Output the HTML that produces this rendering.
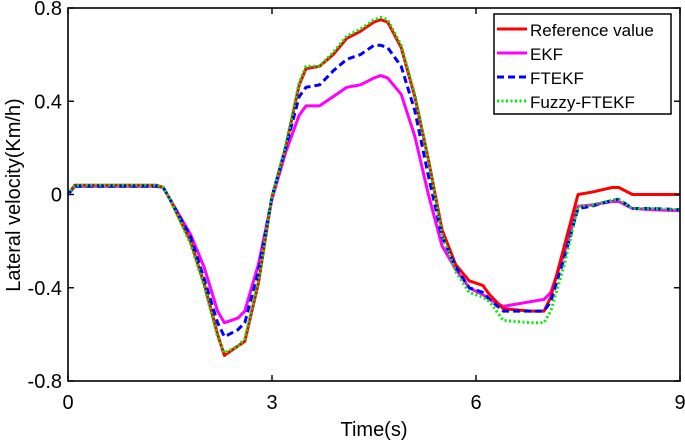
<!DOCTYPE html>
<html><head><meta charset="utf-8"><style>
body{margin:0;background:#fff;}
svg{display:block;font-family:"Liberation Sans",Arial,sans-serif;}
</style></head><body>
<svg id="chart" width="685" height="443" viewBox="0 0 685 443">
<rect x="0" y="0" width="685" height="443" fill="#fff"/>
<g id="series"></g>
<g id="axes"></g>
<text x="374" y="436" font-size="20" text-anchor="middle">Time(s)</text>
<text transform="translate(20,195) rotate(-90)" font-size="20" text-anchor="middle">Lateral velocity(Km/h)</text>
<g>
<rect x="494" y="14" width="177" height="100" fill="#fff" stroke="#000" stroke-width="1.5"/>
<g><line x1="497" y1="29" x2="527" y2="29" stroke="#ff0000" stroke-width="3"/><text x="530" y="36" font-size="17">Reference value</text></g>
<g><line x1="497" y1="53" x2="527" y2="53" stroke="#ff00ff" stroke-width="3"/><text x="530" y="60" font-size="17">EKF</text></g>
<g><line x1="497" y1="77" x2="527" y2="77" stroke="#0000ff" stroke-width="3" stroke-dasharray="7,4"/><text x="530" y="84" font-size="17">FTEKF</text></g>
<g><line x1="497" y1="101" x2="527" y2="101" stroke="#00ee00" stroke-width="3" stroke-dasharray="2,2.5"/><text x="530" y="108" font-size="17">Fuzzy-FTEKF</text></g>
</g>
</svg>
<script>
const times=[0,0.1,1.3,1.4,1.5,1.8,2.0,2.2,2.3,2.5,2.6,2.8,3.0,3.2,3.4,3.5,3.7,3.9,4.1,4.3,4.5,4.6,4.7,4.9,5.1,5.3,5.5,5.7,5.9,6.1,6.2,6.4,6.8,7.0,7.1,7.3,7.5,7.7,8.0,8.1,8.3,8.6,9.0];
const refValues=[0,0.04,0.04,0.03,-0.02,-0.2,-0.38,-0.6,-0.69,-0.65,-0.63,-0.38,-0.01,0.2,0.47,0.54,0.55,0.6,0.67,0.7,0.74,0.75,0.74,0.63,0.42,0.15,-0.15,-0.3,-0.37,-0.39,-0.43,-0.49,-0.5,-0.5,-0.44,-0.22,0.0,0.01,0.03,0.03,0.0,0.0,0.0];
const ekfValues=[0,0.035,0.035,0.03,-0.02,-0.17,-0.31,-0.5,-0.55,-0.53,-0.5,-0.3,-0.02,0.18,0.34,0.38,0.38,0.42,0.46,0.47,0.5,0.51,0.5,0.43,0.25,0.0,-0.22,-0.32,-0.4,-0.43,-0.45,-0.48,-0.46,-0.45,-0.42,-0.25,-0.05,-0.045,-0.03,-0.03,-0.06,-0.065,-0.07];
const ftekfValues=[0,0.035,0.035,0.03,-0.02,-0.18,-0.36,-0.55,-0.61,-0.58,-0.55,-0.33,-0.01,0.2,0.42,0.46,0.47,0.53,0.58,0.6,0.64,0.64,0.63,0.55,0.36,0.08,-0.18,-0.31,-0.4,-0.42,-0.45,-0.5,-0.5,-0.5,-0.46,-0.27,-0.06,-0.05,-0.025,-0.02,-0.06,-0.06,-0.065];
const fuzzyValues=[0,0.04,0.04,0.03,-0.02,-0.21,-0.39,-0.61,-0.68,-0.65,-0.62,-0.37,-0.01,0.21,0.48,0.55,0.55,0.61,0.68,0.71,0.75,0.76,0.75,0.64,0.43,0.15,-0.17,-0.33,-0.42,-0.44,-0.46,-0.54,-0.55,-0.55,-0.5,-0.3,-0.05,-0.045,-0.025,-0.02,-0.06,-0.06,-0.065];
const xTicks=[0,3,6,9];
const xTickLabels=["0","3","6","9"];
const yTicks=[-0.8,-0.4,0,0.4,0.8];
const yTickLabels=["-0.8","-0.4","0","0.4","0.8"];
const X0=68,X1=680,Y0=381,Y1=8;
function xs(t){return X0+(t-0)/(9-0)*(X1-X0);}
function ys(v){return Y0-(v+0.8)/1.6*(Y0-Y1);}
const NS="http://www.w3.org/2000/svg";
const sg=document.getElementById('series');
function line(vals,color,dash,name,w){
  const p=document.createElementNS(NS,'path');
  let d='';
  vals.forEach((v,i)=>{d+=(i?'L':'M')+xs(times[i]).toFixed(1)+','+ys(v).toFixed(1);});
  p.setAttribute('d',d);p.setAttribute('fill','none');p.setAttribute('stroke',color);
  p.setAttribute('stroke-width',w);p.setAttribute('stroke-linejoin','round');
  if(dash)p.setAttribute('stroke-dasharray',dash);
  
  
  sg.appendChild(p);
}
line(ekfValues,'#ff00ff',null,'ekf-line',3);
line(refValues,'#ff0000',null,'reference-line',3);
line(ftekfValues,'#0000ff','7,4','ftekf-line',3);
line(fuzzyValues,'#00ee00','2,2.5','fuzzy-ftekf-line',3);
const ax=document.getElementById('axes');
const fr=document.createElementNS(NS,'rect');
fr.setAttribute('x',X0);fr.setAttribute('y',Y1);fr.setAttribute('width',X1-X0);fr.setAttribute('height',Y0-Y1);
fr.setAttribute('fill','none');fr.setAttribute('stroke','#000');fr.setAttribute('stroke-width','1.6');


ax.appendChild(fr);
xTicks.forEach((t,i)=>{
  [[Y0,Y0-6],[Y1,Y1+6]].forEach(([a,b])=>{
    const l=document.createElementNS(NS,'line');
    l.setAttribute('x1',xs(t));l.setAttribute('x2',xs(t));l.setAttribute('y1',a);l.setAttribute('y2',b);
    l.setAttribute('stroke','#000');l.setAttribute('stroke-width','1.4');
    
    
    ax.appendChild(l);
  });
  const tx=document.createElementNS(NS,'text');
  tx.setAttribute('x',xs(t));tx.setAttribute('y',409);tx.setAttribute('font-size','20');tx.setAttribute('text-anchor','middle');
  tx.textContent=xTickLabels[i];
  
  
  ax.appendChild(tx);
});
yTicks.forEach((v,i)=>{
  [[X0,X0+6],[X1,X1-6]].forEach(([a,b])=>{
    const l=document.createElementNS(NS,'line');
    l.setAttribute('y1',ys(v));l.setAttribute('y2',ys(v));l.setAttribute('x1',a);l.setAttribute('x2',b);
    l.setAttribute('stroke','#000');l.setAttribute('stroke-width','1.4');
    
    
    ax.appendChild(l);
  });
  const tx=document.createElementNS(NS,'text');
  tx.setAttribute('x',62);tx.setAttribute('y',ys(v)+7);tx.setAttribute('font-size','20');tx.setAttribute('text-anchor','end');
  tx.textContent=yTickLabels[i];
  
  
  ax.appendChild(tx);
});
</script>
</body></html>
